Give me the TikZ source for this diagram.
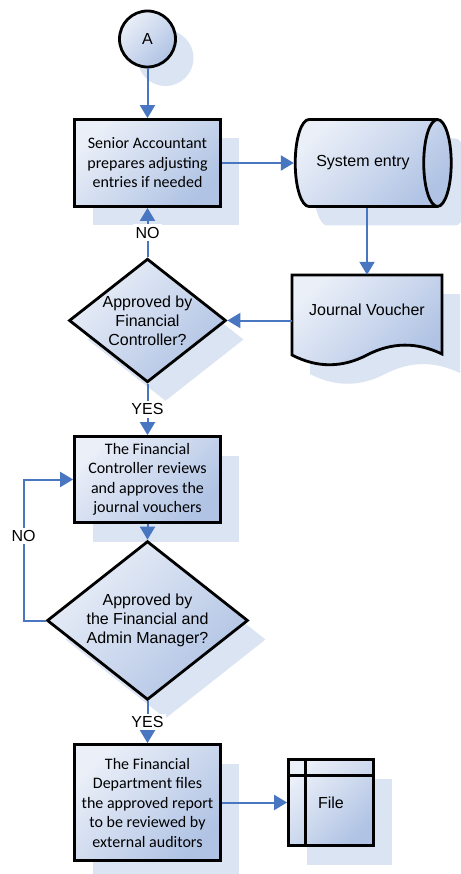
\documentclass[tikz,border=0pt]{standalone}
\usepackage{fontspec}
\setmainfont{Liberation Sans}
\newfontfamily\calibri{Carlito}
\usetikzlibrary{arrows.meta,shapes.geometric,shadows,graphs}
\definecolor{boxlight}{RGB}{234,239,248}
\definecolor{boxdark}{RGB}{176,195,228}
\definecolor{shadowblue}{RGB}{219,228,242}
\definecolor{flowblue}{RGB}{72,118,192}
\tikzset{
    >={Triangle[width=15pt,length=13pt]},
    every node/.style={font=\fontsize{16}{19}\selectfont},
    body/.style={draw=black, line width=2.8pt,
        top color=boxlight, bottom color=boxdark, shading angle=45,
        drop shadow={shadow xshift=18pt, shadow yshift=-19pt,
            fill=shadowblue, opacity=1}},
    process/.style={body, rectangle, minimum width=146pt, align=center,
        inner sep=2pt, font=\calibri\fontsize{16}{19.5}\selectfont},
    decision/.style={body, diamond, inner sep=-4pt, align=center},
    terminal/.style={body, circle, minimum size=56pt},
    flow/.style={draw=flowblue, line width=2pt},
    answer/.style={edge node={node[fill=white, inner sep=2.5pt]{#1}}},
}

\begin{document}
\begin{tikzpicture}[x=1pt, y=-1pt]
    \path[use as bounding box, fill=white] (0,0) rectangle (460,874);

    \node[terminal] (start) at (147.5,39) {A};
    \node[process, minimum height=87pt] (senior) at (147.5,163)
        {Senior Accountant\\prepares adjusting\\entries if needed};
    \node[body, cylinder, aspect=1.3, minimum height=156pt, minimum width=87pt] (sysentry)
        at (363,163) {System entry};

    \path[body] (292,275) -- (442,275) -- (442,354)
        .. controls (417,342) and (392,342) .. (367,355)
        .. controls (342,368) and (317,368) .. (292,355) -- cycle;
    \node[minimum width=150pt, minimum height=70pt, inner sep=0pt] (voucher)
        at (367,310) {Journal Voucher};

    \node[decision, minimum width=157pt, minimum height=101pt] (chk1) at (147.5,320.5)
        {Approved by\\Financial\\Controller?};
    \node[process, minimum height=86pt] (review) at (147.5,479.5)
        {The Financial\\Controller reviews\\and approves the\\journal vouchers};
    \node[decision, minimum width=201pt, minimum height=111pt] (chk2) at (147.5,620.5)
        {Approved by\\the Financial and\\Admin Manager?};
    \node[process, minimum height=116pt] (final) at (147.5,802.5)
        {The Financial\\Department files\\the approved report\\to be reviewed by\\external auditors};
    \node[body, rectangle, minimum width=85pt, minimum height=86pt] (filebox)
        at (331,802.5) {File};
    \draw[line width=2.8pt] ([xshift=18pt]filebox.north west) -- ([xshift=18pt]filebox.south west);
    \draw[line width=2.8pt] ([yshift=-17pt]filebox.north west) -- ([yshift=-17pt]filebox.north east);

    \graph[use existing nodes, edges={flow}] {
        start -> senior -> sysentry;
        chk1 ->[answer=NO] senior;
        chk1 ->[answer=YES] review -> chk2 ->[answer=YES] final -> filebox;
    };
    \draw[flow, ->] (sysentry.south -| voucher) -- (voucher);
    \draw[flow, ->] (voucher.west |- chk1) -- (chk1);
    \draw[flow, ->] (chk2.west) -- ++(-22,0)
        |- node[pos=0.3, fill=white, inner sep=2.5pt] {NO} (review.west);
\end{tikzpicture}
\end{document}
